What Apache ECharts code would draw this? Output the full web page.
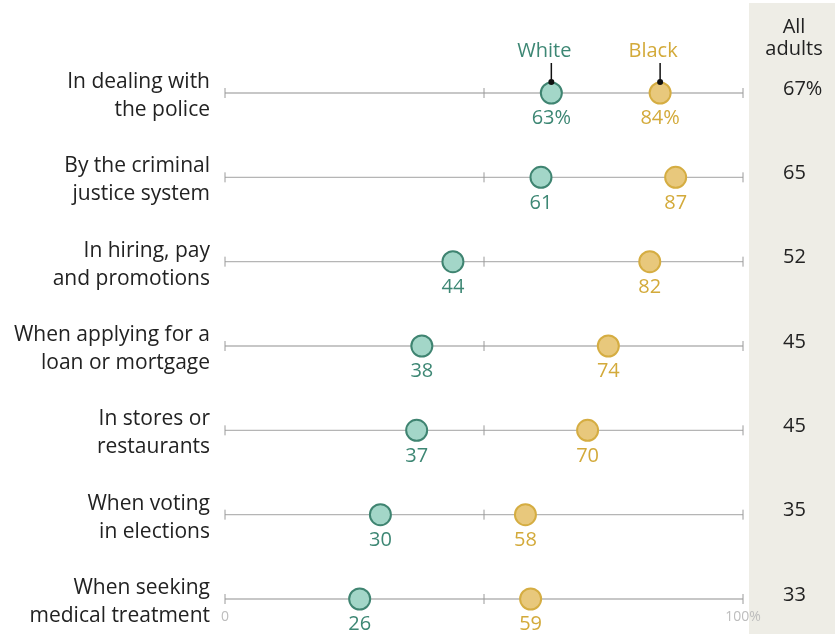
<!DOCTYPE html>
<html><head><meta charset="utf-8">
<script src="https://cdn.jsdelivr.net/npm/echarts@6/dist/echarts.min.js"></script>
<style>html,body{margin:0;padding:0;background:#fff}#c{width:835px;height:634px}</style>
</head><body><div id="c"></div>
<script>
const categories = [
  "In dealing with\nthe police",
  "By the criminal\njustice system",
  "In hiring, pay\nand promotions",
  "When applying for a\nloan or mortgage",
  "In stores or\nrestaurants",
  "When voting\nin elections",
  "When seeking\nmedical treatment"
];
const white = [63, 61, 44, 38, 37, 30, 26];
const black = [84, 87, 82, 74, 70, 58, 59];
const allAdults = [67, 65, 52, 45, 45, 35, 33];
const seriesNames = ["White", "Black"];
const axisTicks = [0, 50, 100];

const FONT = "'Open Sans'";
const FS = 20;
const TEAL_FILL = "#a3d6c8", TEAL_STROKE = "#3f8471", TEAL_TEXT = "#3d8774";
const GOLD_FILL = "#e8c87c", GOLD_STROKE = "#d5ad42", GOLD_TEXT = "#d3aa3a";

const chart = echarts.init(document.getElementById('c'), null, {renderer: 'canvas'});

function rowLines(params, api) {
  const i = api.value(0);
  const p0 = api.coord([0, i]);
  const p1 = api.coord([100, i]);
  const children = [{
    type: 'line', shape: {x1: p0[0], y1: p0[1], x2: p1[0], y2: p1[1]},
    style: {stroke: '#b5b5b5', lineWidth: 1.3}
  }];
  axisTicks.forEach(t => {
    const p = api.coord([t, i]);
    children.push({type: 'line', shape: {x1: p[0], y1: p[1] - 5, x2: p[0], y2: p[1] + 5},
      style: {stroke: '#9a9a9a', lineWidth: 1}});
  });
  // category label
  children.push({type: 'text', style: {text: categories[i], x: p0[0] - 15, y: p0[1] + 3,
    align: 'right', verticalAlign: 'middle', fill: '#222', font: '21px ' + FONT, lineHeight: 28}});
  // all adults value
  children.push({type: 'text', style: {text: i === 0 ? allAdults[i] + '%' : String(allAdults[i]),
    x: 783, y: p0[1] - 4, align: 'left', verticalAlign: 'middle', fill: '#222', font: FS + 'px ' + FONT}});
  return {type: 'group', children};
}

function legendMarker(color) {
  return function (params, api) {
    const p = api.coord([api.value(0), api.value(1)]);
    return {type: 'group', children: [
      {type: 'line', shape: {x1: p[0], y1: p[1] - 12, x2: p[0], y2: p[1] - 30}, style: {stroke: '#111', lineWidth: 1.5}},
      {type: 'circle', shape: {cx: p[0], cy: p[1] - 11, r: 3}, style: {fill: '#111'}, z2: 10},
      {type: 'text', style: {text: api.value(2), x: p[0] - 7, y: p[1] - 42, align: 'center', verticalAlign: 'middle',
        fill: color, font: FS + 'px ' + FONT}}
    ]};
  };
}

const option = {
  animation: false,
  backgroundColor: '#fff',
  graphic: [
    {type: 'rect', shape: {x: 749, y: 3, width: 86, height: 631}, style: {fill: '#eeede6'}, z: -10},
    {type: 'text', style: {text: 'All\nadults', x: 794, y: 38, align: 'center', verticalAlign: 'middle',
      fill: '#222', font: FS + 'px ' + FONT, lineHeight: 22}}
  ],
  grid: {left: 225, right: 92, top: 93, bottom: 35},
  xAxis: {type: 'value', min: 0, max: 100, interval: 50,
    axisLine: {show: false}, axisTick: {show: false}, splitLine: {show: false},
    axisLabel: {show: true, color: '#bdbdbd', fontFamily: FONT, fontSize: 14, margin: 11,
      formatter: v => v === 0 ? '0' : (v === 100 ? '100%' : '')}},
  yAxis: {type: 'category', data: categories, inverse: true, boundaryGap: false,
    axisLine: {show: false}, axisTick: {show: false}, splitLine: {show: false}, axisLabel: {show: false}},
  series: [
    {type: 'custom', renderItem: rowLines, data: categories.map((c, i) => [i]), encode: {x: -1, y: 0}, z: 1, silent: true, clip: false},
    {type: 'custom', renderItem: legendMarker(TEAL_TEXT), data: [[white[0], 0, seriesNames[0]]], z: 5, silent: true, clip: false},
    {type: 'custom', renderItem: legendMarker(GOLD_TEXT), data: [[black[0], 0, seriesNames[1]]], z: 5, silent: true, clip: false},
    {name: seriesNames[0], type: 'scatter', symbolSize: 21, z: 3,
      data: white.map((v, i) => [v, i]),
      itemStyle: {color: TEAL_FILL, borderColor: TEAL_STROKE, borderWidth: 2, opacity: 1},
      label: {show: true, position: 'bottom', distance: 4, color: TEAL_TEXT, fontFamily: FONT, fontSize: FS,
        formatter: p => p.dataIndex === 0 ? p.value[0] + '%' : String(p.value[0])}},
    {name: seriesNames[1], type: 'scatter', symbolSize: 21, z: 3,
      data: black.map((v, i) => [v, i]),
      itemStyle: {color: GOLD_FILL, borderColor: GOLD_STROKE, borderWidth: 2, opacity: 1},
      label: {show: true, position: 'bottom', distance: 4, color: GOLD_TEXT, fontFamily: FONT, fontSize: FS,
        formatter: p => p.dataIndex === 0 ? p.value[0] + '%' : String(p.value[0])}}
  ]
};
chart.setOption(option);
</script></body></html>
